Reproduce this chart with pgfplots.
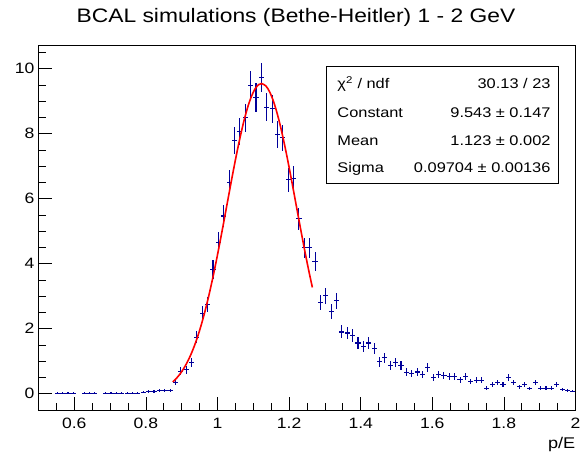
\documentclass[border=0pt]{standalone}
\usepackage{fontspec}
\setmainfont{Liberation Sans}[FakeStretch=1.17]
\usepackage{pgfplots}
\usepackage{pgfplotstable}
\pgfplotsset{compat=1.18}
\definecolor{histblue}{RGB}{0,0,153}
\definecolor{fitred}{RGB}{255,0,0}

\pgfplotstableread{
x y ey
0.5525 0.021 0.021
0.5675 0.021 0.021
0.5825 0.021 0.021
0.5975 0.021 0.021
0.6275 0.021 0.021
0.6425 0.021 0.021
0.6575 0.021 0.021
0.6875 0.021 0.021
0.7025 0.021 0.021
0.7175 0.021 0.021
0.7325 0.021 0.021
0.7475 0.021 0.021
0.7625 0.021 0.021
0.7775 0.021 0.021
0.7925 0.05 0.032
0.8075 0.07 0.038
0.8225 0.07 0.038
0.8375 0.10 0.046
0.8525 0.10 0.046
0.8675 0.10 0.046
0.8825 0.34 0.085
0.8975 0.69 0.120
0.9125 0.74 0.125
0.9275 0.97 0.143
0.9425 1.74 0.191
0.9575 2.47 0.228
0.9725 2.75 0.240
0.9875 3.82 0.283
1.0025 4.66 0.313
1.0175 5.47 0.339
1.0325 6.50 0.370
1.0475 7.79 0.405
1.0625 8.06 0.412
1.0775 8.49 0.422
1.0925 9.49 0.447
1.1075 9.12 0.438
1.1225 9.72 0.452
1.1375 8.81 0.430
1.1525 8.77 0.429
1.1675 7.98 0.410
1.1825 7.87 0.407
1.1975 6.58 0.372
1.2125 6.62 0.373
1.2275 5.39 0.337
1.2425 4.49 0.307
1.2575 4.49 0.307
1.2725 4.06 0.292
1.2875 2.81 0.243
1.3025 3.01 0.252
1.3175 2.52 0.230
1.3325 2.86 0.245
1.3475 1.90 0.200
1.3625 1.87 0.198
1.3775 1.79 0.194
1.3925 1.56 0.181
1.4075 1.45 0.175
1.4225 1.56 0.181
1.4375 1.39 0.171
1.4525 0.98 0.144
1.4675 1.11 0.153
1.4825 0.87 0.135
1.4975 0.95 0.141
1.5125 0.86 0.134
1.5275 0.66 0.118
1.5425 0.62 0.114
1.5575 0.67 0.119
1.5725 0.60 0.112
1.5875 0.81 0.131
1.6025 0.50 0.103
1.6175 0.59 0.111
1.6325 0.57 0.109
1.6475 0.53 0.106
1.6625 0.52 0.105
1.6775 0.43 0.095
1.6925 0.52 0.105
1.7075 0.38 0.089
1.7225 0.42 0.094
1.7375 0.41 0.093
1.7525 0.17 0.060
1.7675 0.28 0.077
1.7825 0.35 0.086
1.7975 0.28 0.077
1.8125 0.51 0.104
1.8275 0.34 0.085
1.8425 0.21 0.066
1.8575 0.29 0.078
1.8725 0.16 0.058
1.8875 0.34 0.085
1.9025 0.17 0.060
1.9175 0.17 0.060
1.9325 0.17 0.060
1.9475 0.29 0.078
1.9625 0.12 0.050
1.9775 0.11 0.048
1.9925 0.08 0.041
}\histdata

\pgfplotstableread{
x y
0.875 0.3642
0.885 0.4714
0.895 0.6039
0.905 0.7652
0.915 0.9597
0.925 1.1905
0.935 1.4607
0.945 1.7744
0.955 2.1323
0.965 2.5354
0.975 2.9825
0.985 3.4715
0.995 3.9984
1.005 4.5561
1.015 5.1370
1.025 5.7311
1.035 6.3255
1.045 6.9089
1.055 7.4656
1.065 7.9822
1.075 8.4441
1.085 8.8387
1.095 9.1539
1.105 9.3803
1.115 9.5106
1.123 9.5430
1.135 9.4703
1.145 9.3009
1.155 9.0380
1.165 8.6899
1.175 8.2667
1.185 7.7812
1.195 7.2470
1.205 6.6780
1.215 6.0885
1.225 5.4926
1.235 4.9027
1.245 4.3299
1.255 3.7835
1.265 3.2712
}\fitdata

\begin{document}
\begin{tikzpicture}
\useasboundingbox (0pt,0pt) rectangle (588pt,456pt);
\begin{axis}[
  at={(38.5pt,46pt)}, anchor=south west,
  scale only axis,
  width=537pt, height=364.7pt,
  xmin=0.5, xmax=2, ymin=-0.5, ymax=10.72,
  xtick={0.6,0.8,1,1.2,1.4,1.6,1.8,2},
  xticklabels={0.6,0.8,1,1.2,1.4,1.6,1.8,2},
  ytick={0,2,4,6,8,10},
  yticklabels={0,2,4,6,8,10},
  minor xtick={0.55,0.65,0.7,0.75,0.85,0.9,0.95,1.05,1.1,1.15,1.25,1.3,1.35,1.45,1.5,1.55,1.65,1.7,1.75,1.85,1.9,1.95},
  minor ytick={-0.5,0.5,1,1.5,2.5,3,3.5,4.5,5,5.5,6.5,7,7.5,8.5,9,9.5,10.5},
  tick align=inside,
  xtick pos=bottom, ytick pos=left,
  major tick length=13pt, minor tick length=7pt,
  tick style={black, line width=0.8pt},
  axis line style={black, line width=0.9pt},
  every tick label/.append style={font=\fontsize{15}{18}\selectfont},
  xticklabel style={anchor=north, inner sep=0pt, yshift=-8.3pt},
  yticklabel style={anchor=east, inner sep=0pt, xshift=-4pt},
  xlabel={p/E},
  every axis x label/.style={at={(rel axis cs:1,0)}, anchor=base east, inner sep=0pt, yshift=-38pt, font=\fontsize{15.5}{18}\selectfont},
  title={BCAL simulations (Bethe-Heitler) 1 - 2 GeV},
  every axis title/.style={at={(rel axis cs:0.5,1)}, anchor=base, inner sep=0pt, xshift=-11pt, yshift=23pt, font=\fontsize{19.5}{22}\selectfont},
  clip=true,
]
\addplot[draw=none, mark=none, forget plot,
  error bars/.cd, x dir=both, x fixed=0.0072, y dir=both, y explicit,
  error mark=none,
  error bar style={histblue, line width=1.1pt}]
  table[x=x, y=y, y error=ey] {\histdata};
\addplot[fitred, line width=1.6pt, mark=none, smooth] table[x=x, y=y] {\fitdata};
\draw[black, line width=0.8pt, fill=white] (axis cs:1.303,6.486) rectangle (axis cs:1.953,10.077);
\begin{scope}[every node/.style={inner sep=0pt, font=\fontsize{14}{16}\selectfont}]
\node[anchor=base west] at (axis cs:1.3346,9.391) {χ\textsuperscript{2} / ndf};
\node[anchor=base east] at (axis cs:1.9307,9.391) {30.13 / 23};
\node[anchor=base west] at (axis cs:1.3346,8.486) {Constant};
\node[anchor=base east] at (axis cs:1.9307,8.486) {9.543 ± 0.147};
\node[anchor=base west] at (axis cs:1.3346,7.646) {Mean};
\node[anchor=base east] at (axis cs:1.9307,7.646) {1.123 ± 0.002};
\node[anchor=base west] at (axis cs:1.3346,6.806) {Sigma};
\node[anchor=base east] at (axis cs:1.9307,6.806) {0.09704 ± 0.00136};
\end{scope}
\end{axis}
\end{tikzpicture}
\end{document}
